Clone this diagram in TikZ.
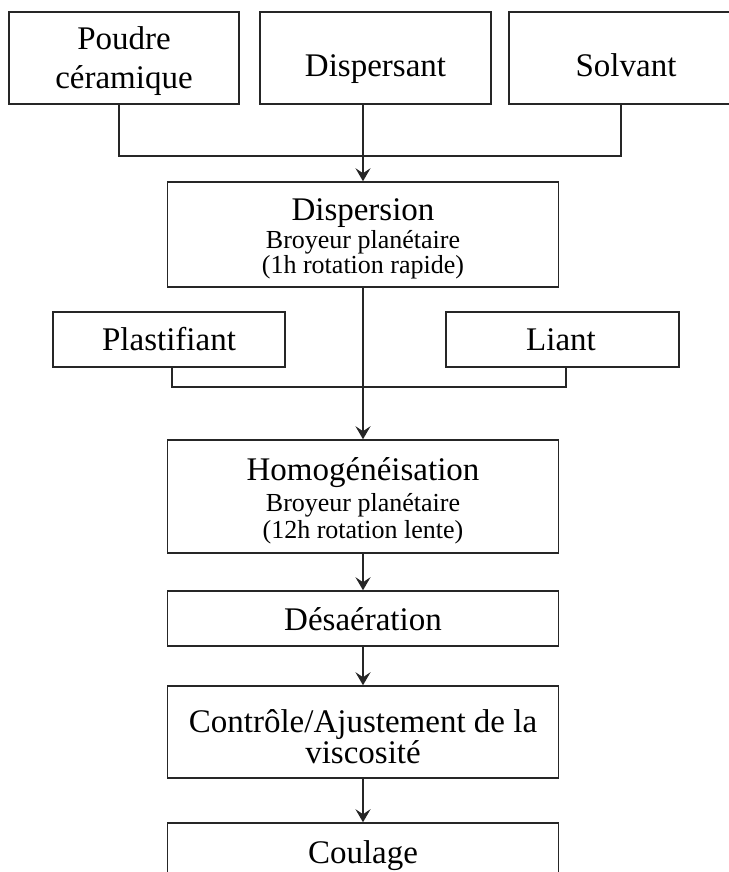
\documentclass[tikz,border=0pt]{standalone}
\usepackage{fontspec}
\setmainfont{Liberation Serif}
\usetikzlibrary{arrows.meta,calc}
\tikzset{
  box/.style={draw=black!85, line width=1.5pt, rectangle, inner sep=0pt, fill=none},
  maintxt/.style={font=\fontsize{33}{33}\selectfont, inner sep=0pt, anchor=base},
  subtxt/.style={font=\fontsize{26}{20}\selectfont, inner sep=0pt, anchor=base},
  conn/.style={draw=black!85, line width=1.6pt},
  arr/.style={conn, -{Stealth[length=13pt,width=15pt,inset=5pt]}}
}
\begin{document}
\begin{tikzpicture}[x=1pt,y=-1pt]
\useasboundingbox (0,0) rectangle (728,872);
% boxes
\node[box, minimum width=230pt, minimum height=92pt] (poudre) at (124,58) {};
\node[box, minimum width=231pt, minimum height=92pt] (dispersant) at (375.5,58) {};
\node[box, minimum width=231pt, minimum height=92pt] (solvant) at (624.5,58) {};
\node[box, minimum width=391pt, minimum height=105pt] (disp) at (363,234.5) {};
\node[box, minimum width=232pt, minimum height=55pt] (plast) at (169,339.5) {};
\node[box, minimum width=233pt, minimum height=55pt] (liant) at (562.5,339.5) {};
\node[box, minimum width=391pt, minimum height=113pt] (homog) at (363,496.5) {};
\node[box, minimum width=391pt, minimum height=55pt] (desa) at (363,618.5) {};
\node[box, minimum width=391pt, minimum height=92pt] (ctrl) at (363,732) {};
\node[box, minimum width=391pt, minimum height=77pt] (coul) at (363,861.5) {};
% texts (base anchor = baseline of the last line)
\node[maintxt, align=center, font=\fontsize{33}{39}\selectfont] (poudre-t) at (124,89) {Poudre\\céramique};
\node[maintxt] (dispersant-t) at (375.5,77) {Dispersant};
\node[maintxt] (solvant-t) at (626,77) {Solvant};
\node[maintxt] (disp-t) at (363,220) {Dispersion};
\node[subtxt, align=center] (disp-s) at (363,273) {Broyeur planétaire\\(1h rotation rapide)};
\node[maintxt] (plast-t) at (169,350) {Plastifiant};
\node[maintxt] (liant-t) at (561,350) {Liant};
\node[maintxt] (homog-t) at (363,480) {Homogénéisation};
\node[subtxt, align=center, font=\fontsize{26}{26.5}\selectfont] (homog-s) at (363,538) {Broyeur planétaire\\(12h rotation lente)};
\node[maintxt] (desa-t) at (363,630) {Désaération};
\node[maintxt, align=center, font=\fontsize{33}{28}\selectfont] (ctrl-t) at (363,763) {Contrôle/Ajustement de la\\viscosité};
\node[maintxt] (coul-t) at (363,863) {Coulage};
% connectors
\coordinate (jl) at (119,156);
\coordinate (jr) at (621,156);
\coordinate (kl) at (172,387);
\coordinate (kr) at (566,387);
\draw[conn] (jl |- poudre.south) -- (jl) -- (jr) -- (jr |- solvant.south);
\draw[arr] (disp.north |- dispersant.south) -- (disp.north);
\draw[conn] (kl |- plast.south) -- (kl) -- (kr) -- (kr |- liant.south);
\draw[arr] (disp.south) -- (homog.north);
\draw[arr] (homog.south) -- (desa.north);
\draw[arr] (desa.south) -- (ctrl.north);
\draw[arr] (ctrl.south) -- (coul.north);
\end{tikzpicture}
\end{document}
